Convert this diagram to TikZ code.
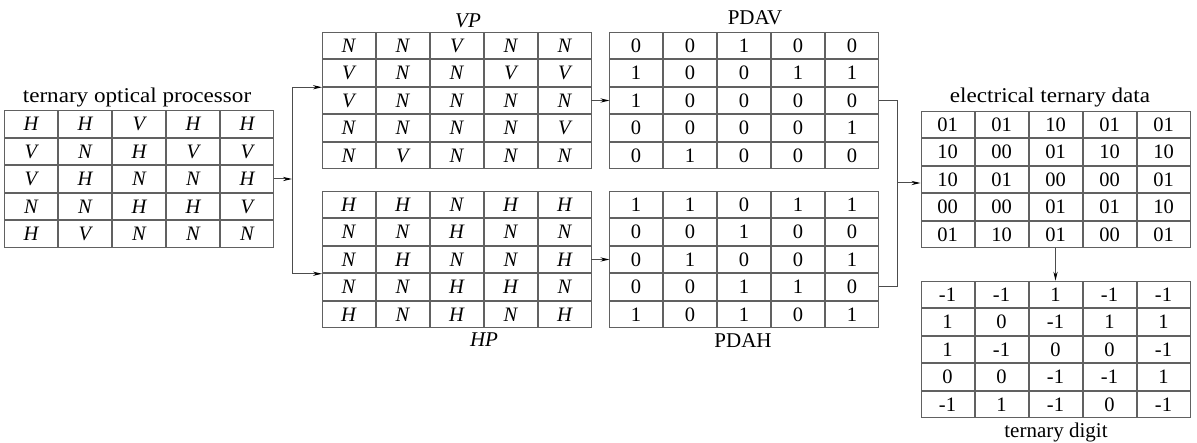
\documentclass[tikz,border=0pt]{standalone}
\usepackage{fontspec}
\setmainfont{Liberation Serif}
\usetikzlibrary{matrix,arrows.meta}
\newcommand\cellfont{\fontsize{20.5}{24}\selectfont}
\newcommand\titlefont{\fontsize{21}{24}\selectfont}
\tikzset{
  cell/.style={draw=black!62, line width=1pt, minimum width=53pt,
    minimum height=26.5pt, inner sep=0pt, outer sep=0pt, anchor=center,
    font=\cellfont},
  tab/.style={matrix of nodes, nodes={cell}, column sep=0pt, row sep=0pt,
    inner sep=0pt, outer sep=0pt},
  itab/.style={tab, nodes={cell, font=\cellfont\itshape}},
  lbl/.style={inner sep=0pt, anchor=base, font=\titlefont},
  link/.style={draw=black!70, line width=1pt},
  arr/.style={link, -{Stealth[length=9pt, width=4.2pt, black]}}
}
\begin{document}
\begin{tikzpicture}[x=1pt, y=-1pt]
\useasboundingbox (0,0) rectangle (1197,443);

% input polarisation pattern
\matrix (T1) [itab] at (139,179) {
  H & H & V & H & H \\
  V & N & H & V & V \\
  V & H & N & N & H \\
  N & N & H & H & V \\
  H & V & N & N & N \\
};
\node[lbl] (t1) at (137,103) {\scalebox{1.1}[1]{ternary optical processor}};

% vertical and horizontal polariser outputs
\matrix (VP) [itab] at (456.5,100.5) {
  N & N & V & N & N \\
  V & N & N & V & V \\
  V & N & N & N & N \\
  N & N & N & N & V \\
  N & V & N & N & N \\
};
\node[lbl, font=\titlefont\itshape] (vpl) at (468,28) {VP};

\matrix (HP) [itab] at (456.5,259.5) {
  H & H & N & H & H \\
  N & N & H & N & N \\
  N & H & N & N & H \\
  N & N & H & H & N \\
  H & N & H & N & H \\
};
\node[lbl, font=\titlefont\itshape] (hpl) at (484,347) {HP};

% photodetector arrays
\matrix (PDAV) [tab] at (744,100.5) {
  0 & 0 & 1 & 0 & 0 \\
  1 & 0 & 0 & 1 & 1 \\
  1 & 0 & 0 & 0 & 0 \\
  0 & 0 & 0 & 0 & 1 \\
  0 & 1 & 0 & 0 & 0 \\
};
\node[lbl] (pdavl) at (755,25) {PDAV};

\matrix (PDAH) [tab] at (744,259.5) {
  1 & 1 & 0 & 1 & 1 \\
  0 & 0 & 1 & 0 & 0 \\
  0 & 1 & 0 & 0 & 1 \\
  0 & 0 & 1 & 1 & 0 \\
  1 & 0 & 1 & 0 & 1 \\
};
\node[lbl] (pdahl) at (743,348) {PDAH};

% electrical data and decoded digits
\matrix (ETD) [tab] at (1055.5,179.5) {
  01 & 01 & 10 & 01 & 01 \\
  10 & 00 & 01 & 10 & 10 \\
  10 & 01 & 00 & 00 & 01 \\
  00 & 00 & 01 & 01 & 10 \\
  01 & 10 & 01 & 00 & 01 \\
};
\node[lbl] (etdl) at (1050,103) {\scalebox{1.1}[1]{electrical ternary data}};

\matrix (TD) [tab] at (1055.5,349.5) {
  -1 & -1 & 1 & -1 & -1 \\
  1 & 0 & -1 & 1 & 1 \\
  1 & -1 & 0 & 0 & -1 \\
  0 & 0 & -1 & -1 & 1 \\
  -1 & 1 & -1 & 0 & -1 \\
};
\node[lbl] (tdl) at (1056,438) {ternary digit};

% splitting connectors
\coordinate (jl) at (292,179);
\coordinate (ja) at (jl |- VP-3-1.north west);
\coordinate (jb) at (jl |- HP-4-1.north west);
\draw[arr] (T1.east |- jl) -- (jl);
\draw[link] (ja) -- (jb);
\draw[arr] (ja) -- (VP-3-1.north west);
\draw[arr] (jb) -- (HP-4-1.north west);

\draw[arr] (VP-3-5.east) -- (PDAV-3-1.west);
\draw[arr] (HP-3-5.east) -- (PDAH-3-1.west);

% combining connectors
\coordinate (jr) at (897,183);
\draw[link] (PDAV-3-5.east) -| (jr) |- (PDAH-4-5.east);
\draw[arr] (jr) -- (ETD.west |- jr);
\draw[arr] (ETD.south) -- (TD.north);
\end{tikzpicture}
\end{document}
